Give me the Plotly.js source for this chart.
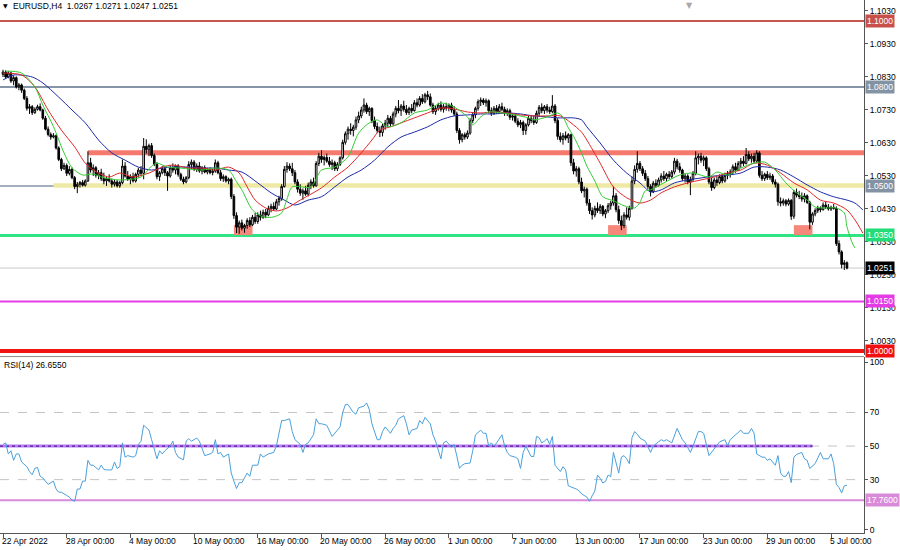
<!DOCTYPE html>
<html><head><meta charset="utf-8">
<script src="https://cdn.plot.ly/plotly-3.0.1.min.js"></script>
<style>html,body{margin:0;padding:0;background:#fff}#chart{width:900px;height:550px}</style>
</head><body><div id="chart"></div>
<script>
// ---------------- DATA ----------------
const symbolTitle = 'EURUSD,H4\u00a0\u00a01.0267 1.0271 1.0247 1.0251';
const rsiTitle = 'RSI(14) 26.6550';

const open = [
1.0838,1.0845,1.0830,1.0842,1.0818,1.0828,1.0800,1.0806,1.0790,1.0765,
1.0735,1.0740,1.0722,1.0732,1.0740,1.0730,1.0705,1.0672,1.0656,1.0648,
1.0652,1.0615,1.0580,1.0552,1.0562,1.0538,1.0550,1.0525,1.0498,1.0505,
1.0510,1.0502,1.0515,1.0570,1.0548,1.0555,1.0532,1.0540,1.0522,1.0515,
1.0522,1.0515,1.0505,1.0512,1.0500,1.0510,1.0560,1.0530,1.0520,1.0528,
1.0515,1.0535,1.0548,1.0538,1.0620,1.0610,1.0622,1.0592,1.0565,1.0528,
1.0540,1.0552,1.0540,1.0530,1.0555,1.0548,1.0560,1.0535,1.0520,1.0512,
1.0525,1.0565,1.0572,1.0550,1.0560,1.0545,1.0555,1.0542,1.0550,1.0540,
1.0545,1.0570,1.0540,1.0522,1.0528,1.0515,1.0520,1.0468,1.0410,1.0375,
1.0388,1.0372,1.0380,1.0395,1.0382,1.0405,1.0392,1.0412,1.0405,1.0420,
1.0412,1.0432,1.0438,1.0430,1.0452,1.0462,1.0498,1.0550,1.0560,1.0552,
1.0540,1.0512,1.0490,1.0478,1.0485,1.0475,1.0502,1.0512,1.0500,1.0568,
1.0590,1.0580,1.0586,1.0575,1.0565,1.0570,1.0552,1.0565,1.0585,1.0632,
1.0658,1.0672,1.0668,1.0678,1.0700,1.0712,1.0730,1.0745,1.0725,1.0735,
1.0698,1.0680,1.0668,1.0662,1.0682,1.0690,1.0705,1.0688,1.0718,1.0735,
1.0728,1.0742,1.0732,1.0722,1.0735,1.0728,1.0752,1.0745,1.0765,1.0755,
1.0776,1.0770,1.0745,1.0725,1.0735,1.0745,1.0732,1.0740,1.0736,1.0745,
1.0730,1.0718,1.0668,1.0640,1.0655,1.0648,1.0660,1.0698,1.0715,1.0735,
1.0755,1.0760,1.0752,1.0758,1.0728,1.0720,1.0735,1.0725,1.0740,1.0732,
1.0720,1.0728,1.0708,1.0712,1.0696,1.0685,1.0692,1.0668,1.0685,1.0705,
1.0698,1.0692,1.0720,1.0738,1.0728,1.0740,1.0730,1.0725,1.0742,1.0698,
1.0650,1.0640,1.0652,1.0645,1.0655,1.0570,1.0545,1.0552,1.0512,1.0485,
1.0490,1.0448,1.0425,1.0412,1.0432,1.0425,1.0438,1.0415,1.0425,1.0440,
1.0448,1.0470,1.0428,1.0395,1.0380,1.0412,1.0405,1.0432,1.0515,1.0550,
1.0568,1.0552,1.0538,1.0522,1.0498,1.0482,1.0508,1.0502,1.0518,1.0530,
1.0522,1.0535,1.0528,1.0542,1.0575,1.0558,1.0548,1.0522,1.0530,1.0512,
1.0520,1.0538,1.0585,1.0590,1.0578,1.0585,1.0552,1.0512,1.0495,1.0518,
1.0510,1.0528,1.0515,1.0532,1.0538,1.0542,1.0558,1.0548,1.0568,1.0575,
1.0568,1.0595,1.0582,1.0590,1.0575,1.0600,1.0532,1.0522,1.0535,1.0525,
1.0530,1.0512,1.0505,1.0452,1.0448,1.0455,1.0445,1.0456,1.0408,1.0480,
1.0472,1.0468,1.0460,1.0470,1.0450,1.0390,1.0415,1.0425,1.0432,1.0428,
1.0442,1.0436,1.0430,1.0435,1.0432,1.0325,1.0300,1.0262,1.0267];

const high = [
1.0852,1.0850,1.0848,1.0846,1.0835,1.0832,1.0812,1.0810,1.0795,1.0772,
1.0748,1.0745,1.0738,1.0746,1.0750,1.0734,1.0712,1.0680,1.0662,1.0660,
1.0656,1.0620,1.0585,1.0570,1.0568,1.0560,1.0556,1.0530,1.0512,1.0515,
1.0518,1.0520,1.0605,1.0585,1.0565,1.0560,1.0548,1.0552,1.0540,1.0528,
1.0535,1.0522,1.0520,1.0518,1.0515,1.0580,1.0572,1.0545,1.0535,1.0540,
1.0540,1.0555,1.0560,1.0645,1.0641,1.0628,1.0630,1.0598,1.0572,1.0545,
1.0560,1.0558,1.0545,1.0562,1.0568,1.0565,1.0566,1.0540,1.0528,1.0530,
1.0575,1.0580,1.0578,1.0568,1.0572,1.0560,1.0562,1.0555,1.0556,1.0552,
1.0580,1.0576,1.0548,1.0535,1.0532,1.0525,1.0525,1.0475,1.0420,1.0395,
1.0398,1.0385,1.0402,1.0405,1.0412,1.0418,1.0420,1.0425,1.0428,1.0430,
1.0440,1.0446,1.0450,1.0460,1.0470,1.0505,1.0560,1.0572,1.0568,1.0570,
1.0548,1.0520,1.0505,1.0492,1.0500,1.0510,1.0520,1.0525,1.0575,1.0600,
1.0608,1.0592,1.0598,1.0588,1.0580,1.0576,1.0572,1.0590,1.0640,1.0665,
1.0680,1.0690,1.0685,1.0710,1.0725,1.0740,1.0765,1.0752,1.0740,1.0738,
1.0710,1.0692,1.0680,1.0688,1.0700,1.0715,1.0712,1.0725,1.0742,1.0760,
1.0748,1.0758,1.0745,1.0740,1.0748,1.0760,1.0765,1.0772,1.0778,1.0782,
1.0788,1.0780,1.0752,1.0742,1.0752,1.0756,1.0748,1.0752,1.0750,1.0752,
1.0742,1.0725,1.0675,1.0660,1.0662,1.0668,1.0705,1.0722,1.0740,1.0762,
1.0768,1.0766,1.0765,1.0762,1.0738,1.0742,1.0745,1.0748,1.0752,1.0740,
1.0735,1.0734,1.0720,1.0718,1.0705,1.0700,1.0698,1.0690,1.0712,1.0715,
1.0712,1.0728,1.0745,1.0750,1.0745,1.0748,1.0740,1.0775,1.0748,1.0705,
1.0662,1.0660,1.0665,1.0660,1.0658,1.0582,1.0560,1.0558,1.0525,1.0498,
1.0495,1.0460,1.0435,1.0440,1.0450,1.0445,1.0442,1.0430,1.0448,1.0455,
1.0498,1.0478,1.0440,1.0410,1.0420,1.0435,1.0440,1.0528,1.0562,1.0605,
1.0575,1.0560,1.0548,1.0530,1.0505,1.0515,1.0520,1.0525,1.0538,1.0545,
1.0540,1.0545,1.0548,1.0585,1.0582,1.0570,1.0552,1.0538,1.0535,1.0528,
1.0545,1.0605,1.0598,1.0600,1.0592,1.0590,1.0558,1.0525,1.0525,1.0528,
1.0535,1.0535,1.0540,1.0545,1.0550,1.0565,1.0570,1.0575,1.0585,1.0590,
1.0615,1.0605,1.0598,1.0600,1.0608,1.0605,1.0545,1.0540,1.0545,1.0540,
1.0536,1.0520,1.0510,1.0465,1.0462,1.0460,1.0462,1.0460,1.0488,1.0492,
1.0485,1.0480,1.0478,1.0474,1.0455,1.0420,1.0432,1.0440,1.0438,1.0450,
1.0452,1.0445,1.0440,1.0445,1.0438,1.0335,1.0305,1.0275,1.0271];

const low = [
1.0830,1.0825,1.0826,1.0812,1.0805,1.0795,1.0790,1.0782,1.0760,1.0728,
1.0718,1.0715,1.0718,1.0728,1.0726,1.0700,1.0668,1.0650,1.0640,1.0644,
1.0610,1.0575,1.0545,1.0548,1.0530,1.0532,1.0520,1.0490,1.0478,1.0495,
1.0498,1.0498,1.0512,1.0540,1.0530,1.0525,1.0520,1.0515,1.0505,1.0500,
1.0510,1.0495,1.0498,1.0495,1.0494,1.0505,1.0525,1.0515,1.0505,1.0510,
1.0510,1.0525,1.0530,1.0520,1.0598,1.0590,1.0585,1.0560,1.0520,1.0515,
1.0535,1.0530,1.0485,1.0525,1.0540,1.0535,1.0528,1.0515,1.0505,1.0508,
1.0520,1.0550,1.0545,1.0542,1.0540,1.0535,1.0538,1.0535,1.0535,1.0532,
1.0540,1.0535,1.0515,1.0512,1.0510,1.0505,1.0460,1.0400,1.0357,1.0355,
1.0365,1.0358,1.0370,1.0375,1.0378,1.0385,1.0385,1.0395,1.0400,1.0402,
1.0408,1.0420,1.0425,1.0426,1.0440,1.0455,1.0495,1.0540,1.0545,1.0530,
1.0505,1.0480,1.0470,1.0458,1.0470,1.0468,1.0490,1.0495,1.0498,1.0560,
1.0570,1.0562,1.0570,1.0558,1.0548,1.0545,1.0545,1.0560,1.0580,1.0625,
1.0640,1.0655,1.0650,1.0670,1.0690,1.0705,1.0722,1.0718,1.0712,1.0690,
1.0672,1.0660,1.0648,1.0650,1.0670,1.0678,1.0680,1.0685,1.0708,1.0720,
1.0712,1.0725,1.0715,1.0715,1.0720,1.0725,1.0738,1.0740,1.0748,1.0750,
1.0760,1.0740,1.0718,1.0715,1.0728,1.0725,1.0722,1.0728,1.0726,1.0722,
1.0712,1.0660,1.0628,1.0632,1.0640,1.0642,1.0655,1.0690,1.0705,1.0728,
1.0742,1.0745,1.0740,1.0720,1.0712,1.0715,1.0718,1.0720,1.0726,1.0712,
1.0712,1.0700,1.0698,1.0690,1.0678,1.0675,1.0654,1.0655,1.0680,1.0690,
1.0685,1.0688,1.0712,1.0720,1.0718,1.0722,1.0718,1.0720,1.0690,1.0640,
1.0632,1.0625,1.0638,1.0630,1.0560,1.0535,1.0528,1.0505,1.0478,1.0465,
1.0440,1.0415,1.0398,1.0405,1.0418,1.0415,1.0408,1.0402,1.0418,1.0428,
1.0440,1.0420,1.0385,1.0366,1.0372,1.0398,1.0395,1.0428,1.0505,1.0540,
1.0545,1.0530,1.0515,1.0490,1.0468,1.0478,1.0495,1.0498,1.0510,1.0515,
1.0512,1.0520,1.0522,1.0535,1.0550,1.0540,1.0515,1.0510,1.0505,1.0472,
1.0512,1.0532,1.0565,1.0570,1.0560,1.0545,1.0505,1.0485,1.0490,1.0500,
1.0505,1.0508,1.0510,1.0520,1.0525,1.0535,1.0540,1.0545,1.0555,1.0560,
1.0565,1.0575,1.0570,1.0568,1.0570,1.0525,1.0515,1.0515,1.0518,1.0518,
1.0505,1.0495,1.0440,1.0438,1.0440,1.0438,1.0440,1.0397,1.0400,1.0465,
1.0460,1.0452,1.0450,1.0445,1.0368,1.0382,1.0408,1.0418,1.0420,1.0425,
1.0430,1.0425,1.0424,1.0428,1.0318,1.0292,1.0250,1.0245,1.0247];

const close = [
1.0845,1.0830,1.0842,1.0818,1.0828,1.0800,1.0806,1.0790,1.0765,1.0735,
1.0740,1.0722,1.0732,1.0740,1.0730,1.0705,1.0672,1.0656,1.0648,1.0652,
1.0615,1.0580,1.0552,1.0562,1.0538,1.0550,1.0525,1.0498,1.0505,1.0510,
1.0502,1.0515,1.0570,1.0548,1.0555,1.0532,1.0540,1.0522,1.0515,1.0522,
1.0515,1.0505,1.0512,1.0500,1.0510,1.0560,1.0530,1.0520,1.0528,1.0515,
1.0535,1.0548,1.0538,1.0620,1.0610,1.0622,1.0592,1.0565,1.0528,1.0540,
1.0552,1.0540,1.0530,1.0555,1.0548,1.0560,1.0535,1.0520,1.0512,1.0525,
1.0565,1.0572,1.0550,1.0560,1.0545,1.0555,1.0542,1.0550,1.0540,1.0545,
1.0570,1.0540,1.0522,1.0528,1.0515,1.0520,1.0468,1.0410,1.0375,1.0388,
1.0372,1.0380,1.0395,1.0382,1.0405,1.0392,1.0412,1.0405,1.0420,1.0412,
1.0432,1.0438,1.0430,1.0452,1.0462,1.0498,1.0550,1.0560,1.0552,1.0540,
1.0512,1.0490,1.0478,1.0485,1.0475,1.0502,1.0512,1.0500,1.0568,1.0590,
1.0580,1.0586,1.0575,1.0565,1.0570,1.0552,1.0565,1.0585,1.0632,1.0658,
1.0672,1.0668,1.0678,1.0700,1.0712,1.0730,1.0745,1.0725,1.0735,1.0698,
1.0680,1.0668,1.0662,1.0682,1.0690,1.0705,1.0688,1.0718,1.0735,1.0728,
1.0742,1.0732,1.0722,1.0735,1.0728,1.0752,1.0745,1.0765,1.0755,1.0776,
1.0770,1.0745,1.0725,1.0735,1.0745,1.0732,1.0740,1.0736,1.0745,1.0730,
1.0718,1.0668,1.0640,1.0655,1.0648,1.0660,1.0698,1.0715,1.0735,1.0755,
1.0760,1.0752,1.0758,1.0728,1.0720,1.0735,1.0725,1.0740,1.0732,1.0720,
1.0728,1.0708,1.0712,1.0696,1.0685,1.0692,1.0668,1.0685,1.0705,1.0698,
1.0692,1.0720,1.0738,1.0728,1.0740,1.0730,1.0725,1.0742,1.0698,1.0650,
1.0640,1.0652,1.0645,1.0655,1.0570,1.0545,1.0552,1.0512,1.0485,1.0490,
1.0448,1.0425,1.0412,1.0432,1.0425,1.0438,1.0415,1.0425,1.0440,1.0448,
1.0470,1.0428,1.0395,1.0380,1.0412,1.0405,1.0432,1.0515,1.0550,1.0568,
1.0552,1.0538,1.0522,1.0498,1.0482,1.0508,1.0502,1.0518,1.0530,1.0522,
1.0535,1.0528,1.0542,1.0575,1.0558,1.0548,1.0522,1.0530,1.0512,1.0520,
1.0538,1.0585,1.0590,1.0578,1.0585,1.0552,1.0512,1.0495,1.0518,1.0510,
1.0528,1.0515,1.0532,1.0538,1.0542,1.0558,1.0548,1.0568,1.0575,1.0568,
1.0595,1.0582,1.0590,1.0575,1.0600,1.0532,1.0522,1.0535,1.0525,1.0530,
1.0512,1.0505,1.0452,1.0448,1.0455,1.0445,1.0456,1.0408,1.0480,1.0472,
1.0468,1.0460,1.0470,1.0450,1.0390,1.0415,1.0425,1.0432,1.0428,1.0442,
1.0436,1.0430,1.0435,1.0432,1.0325,1.0300,1.0262,1.0267,1.0251];

// Alligator-style moving averages (bar index, price)
const lipsBars = [1,7,12,15,19,23,26,30,34,37,44,52,56,58,62,67,75,80,85,88,90,94,98,102,105,107,109,116,120,125,130,134,138,141,145,150,155,160,165,170,175,177,180,183,188,193,198,200,205,209,211,213,215,218,220,223,226,230,234,238,240,242,244,249,255,260,266,269,273,278,283,287,291,295,299,303,306,310,314,317,318,320,321];
const lipsValues = [1.0848,1.0842,1.0800,1.0745,1.0680,1.0600,1.0555,1.0533,1.0536,1.0527,1.0518,1.0527,1.0560,1.0569,1.0557,1.0554,1.0548,1.0554,1.0548,1.0512,1.0488,1.0427,1.0406,1.0406,1.0418,1.0460,1.0497,1.0497,1.0548,1.0557,1.0588,1.0660,1.0691,1.0700,1.0679,1.0691,1.0721,1.0730,1.0751,1.0739,1.0709,1.0685,1.0709,1.0724,1.0721,1.0715,1.0706,1.0700,1.0709,1.0721,1.0709,1.0676,1.0650,1.0600,1.0560,1.0515,1.0467,1.0455,1.0440,1.0433,1.0450,1.0485,1.0488,1.0509,1.0533,1.0539,1.0527,1.0542,1.0533,1.0554,1.0569,1.0572,1.0548,1.0509,1.0479,1.0457,1.0436,1.0433,1.0433,1.0418,1.0376,1.0327,1.0312];

const teethBars = [0,7,12,17,22,27,31,34,40,44,49,55,60,64,70,75,80,85,89,92,95,99,103,107,112,120,125,130,135,139,142,146,150,155,160,165,170,175,180,185,190,195,200,205,210,214,218,220,225,230,235,240,244,248,253,258,263,268,273,278,283,288,293,298,303,308,313,318,321,324];
const teethValues = [1.0842,1.0836,1.0800,1.0730,1.0669,1.0618,1.0569,1.0548,1.0527,1.0539,1.0527,1.0539,1.0557,1.0563,1.0554,1.0554,1.0548,1.0557,1.0539,1.0497,1.0457,1.0433,1.0424,1.0433,1.0457,1.0494,1.0527,1.0557,1.0600,1.0639,1.0669,1.0679,1.0691,1.0706,1.0721,1.0736,1.0733,1.0724,1.0721,1.0724,1.0721,1.0715,1.0712,1.0712,1.0712,1.0691,1.0663,1.0639,1.0569,1.0497,1.0464,1.0448,1.0457,1.0479,1.0497,1.0509,1.0518,1.0527,1.0539,1.0548,1.0569,1.0563,1.0539,1.0509,1.0488,1.0457,1.0448,1.0427,1.0397,1.0357];

const jawBars = [0,4,11,15,21,26,31,36,41,46,51,56,60,64,70,75,80,85,90,96,101,106,110,115,120,125,130,135,140,145,150,155,160,165,170,175,180,185,190,195,200,205,210,215,218,220,225,230,235,240,244,248,253,258,263,268,273,278,283,288,293,298,303,308,313,318,321,324];
const jawValues = [1.0821,1.0836,1.0830,1.0812,1.0769,1.0730,1.0691,1.0639,1.0600,1.0578,1.0557,1.0548,1.0554,1.0557,1.0557,1.0554,1.0554,1.0548,1.0542,1.0509,1.0479,1.0457,1.0442,1.0457,1.0467,1.0497,1.0527,1.0548,1.0578,1.0618,1.0648,1.0663,1.0679,1.0700,1.0712,1.0715,1.0718,1.0718,1.0721,1.0718,1.0712,1.0709,1.0706,1.0706,1.0700,1.0679,1.0630,1.0578,1.0539,1.0509,1.0482,1.0488,1.0509,1.0518,1.0524,1.0530,1.0533,1.0539,1.0557,1.0557,1.0548,1.0527,1.0503,1.0482,1.0467,1.0457,1.0448,1.0427];

// RSI(14) (bar index, value)
const rsiBars = [0,1,2,3,4,5,6,7,9,10,11,12,13,14,15,16,17,19,20,21,22,24,25,26,27,28,29,30,31,32,33,34,36,37,38,39,41,42,43,44,45,46,47,49,50,51,52,53,54,55,56,58,59,60,61,63,64,65,66,68,69,70,71,73,74,75,76,78,79,80,81,82,83,85,86,87,88,89,90,92,93,94,95,96,97,98,100,102,103,104,105,106,108,109,110,112,113,114,115,117,118,119,120,122,123,124,126,127,128,129,130,132,133,134,136,137,138,139,141,142,143,144,146,147,148,149,151,152,153,154,156,157,158,159,161,162,163,164,165,166,167,169,170,171,172,173,174,176,177,178,179,180,181,182,183,184,185,186,188,189,190,191,193,194,195,196,197,198,199,200,201,202,203,204,205,206,207,208,210,211,212,213,215,216,217,218,220,221,222,223,224,225,226,227,228,229,230,232,233,234,235,236,237,238,239,240,242,243,244,245,247,248,249,250,252,253,254,256,257,258,259,260,262,263,264,266,267,268,269,270,272,273,274,276,277,278,279,281,282,283,284,286,287,288,289,291,292,293,294,295,296,297,298,299,301,302,303,304,306,307,308,309,311,312,313,314,315,316,317,318];
const rsiValues = [51.0,51.9,45.3,47.2,41.5,45.3,45.3,40.5,37.7,34.8,32.9,36.7,37.3,32.0,31.0,29.1,27.2,29.1,24.4,22.5,22.5,20.6,19.6,17.7,17.1,24.4,24.4,29.1,29.1,41.5,38.6,38.6,35.8,38.6,36.1,35.8,35.8,40.5,36.7,37.7,51.9,43.4,44.3,43.4,44.3,51.0,52.9,62.4,60.8,59.5,53.8,42.4,47.2,45.3,47.2,50.0,52.9,46.2,43.4,41.8,52.9,54.4,52.9,54.8,52.9,48.1,44.3,45.3,46.2,53.8,45.3,46.2,43.4,45.3,33.9,29.1,24.7,28.2,28.2,33.9,32.0,38.6,38.6,38.6,45.3,43.4,45.3,46.2,50.0,56.7,65.2,65.2,66.2,58.6,53.8,51.0,46.2,51.0,51.9,56.7,66.2,63.3,63.3,62.4,59.5,55.7,59.5,61.4,70.0,74.7,74.7,70.0,69.0,72.8,73.8,75.7,71.9,63.3,53.8,53.8,58.6,61.4,57.6,60.5,62.4,66.2,68.1,63.3,56.7,59.5,60.5,65.2,63.3,67.1,63.3,56.7,52.9,47.2,42.4,51.9,52.9,49.4,50.9,44.0,36.7,38.6,39.5,39.9,47.2,56.7,58.0,59.5,57.6,57.6,50.0,51.9,50.0,51.9,56.7,50.0,46.2,44.3,43.4,42.4,36.7,46.2,50.0,47.2,43.8,43.8,55.7,55.1,51.9,52.9,54.4,51.0,55.7,38.6,34.8,37.7,35.8,26.3,25.3,24.4,23.4,21.5,19.6,17.1,20.4,23.2,32.7,30.8,28.0,28.9,32.7,31.8,46.2,33.9,43.4,44.3,42.4,39.5,55.0,58.6,57.1,54.8,52.9,50.0,46.2,50.0,52.9,53.8,52.9,53.8,51.9,55.7,60.5,53.8,51.9,49.1,46.2,50.0,58.6,58.6,57.6,44.3,46.2,48.1,50.0,52.5,53.8,50.0,53.8,56.7,57.6,59.5,57.6,57.6,60.5,57.6,45.3,43.4,43.4,41.5,42.4,38.6,44.3,33.9,32.0,32.0,34.8,28.2,43.4,45.0,46.2,42.4,41.5,36.7,39.5,42.4,46.2,42.4,42.4,45.3,39.5,27.2,25.3,22.1,26.3,26.7];

// time axis labels (bar index of each label)
const dateTickBars = [0,24,48,72,96,120,144,168,192,216,240,264,288,312];
const dateTickLabels = ['22 Apr 2022','28 Apr 00:00','4 May 00:00','10 May 00:00','16 May 00:00','20 May 00:00','26 May 00:00','1 Jun 00:00','7 Jun 00:00','13 Jun 00:00','17 Jun 00:00','23 Jun 00:00','29 Jun 00:00','5 Jul 00:00'];
const priceTicks = [1.0030,1.0130,1.0230,1.0330,1.0430,1.0530,1.0630,1.0730,1.0830,1.0930,1.1030];
const rsiTicks = [0,30,50,70,100];

// horizontal levels
const levelPrices = [1.1000,1.0800,1.0500,1.0350,1.0150,1.0000];
const levelLabels = ['1.1000','1.0800','1.0500','1.0350','1.0150','1.0000'];
const lastPrice = 1.0251;
const resistanceZone = [1.0593,1.0608];
const resistanceStartBar = 32;
const supportZone = [1.0494,1.0508];
const supportStartBar = 19;
const touchZone = [1.0351,1.0381];
const touchStartBars = [87,228,298];
const touchEndBars = [94,235,305];
const rsiLevels = [30,50,70];
const rsiLowLevel = 17.76;
const rsiMidLevel = 50;
const rsiMidEndBar = 305;

// ---------------- STYLE ----------------
const FONT = 'Liberation Sans, Arial, sans-serif';
const FS = 8.5;
const levelColors = ['#c9554f','#8595a6','#8595a6','#2fe482','#e43de4','#f01414'];
const levelBoxColors = ['#c8504a','#8393a4','#8393a4','#22dc78','#e43ce4','#f01010'];
const levelWidths = [2,2,1.5,3,2,4];
const xRange = [-1.13, 324.42];

const barIndex = close.map((_, i) => i);

const traces = [
  {type:'candlestick', x:barIndex, open:open, high:high, low:low, close:close,
   xaxis:'x', yaxis:'y', whiskerwidth:0, hoverinfo:'skip',
   increasing:{line:{color:'#000', width:1}, fillcolor:'#ffffff'},
   decreasing:{line:{color:'#000', width:1}, fillcolor:'#000000'}},
  {type:'scatter', mode:'lines', x:jawBars, y:jawValues, xaxis:'x', yaxis:'y',
   line:{color:'#1c2aa6', width:1, shape:'spline', smoothing:0.8}, hoverinfo:'skip'},
  {type:'scatter', mode:'lines', x:teethBars, y:teethValues, xaxis:'x', yaxis:'y',
   line:{color:'#e02828', width:1, shape:'spline', smoothing:0.8}, hoverinfo:'skip'},
  {type:'scatter', mode:'lines', x:lipsBars, y:lipsValues, xaxis:'x', yaxis:'y',
   line:{color:'#33cc33', width:1, shape:'spline', smoothing:0.8}, hoverinfo:'skip'},
  {type:'scatter', mode:'lines', x:rsiBars, y:rsiValues, xaxis:'x', yaxis:'y2',
   line:{color:'#4aa0dc', width:1}, hoverinfo:'skip'}
];

const shapes = [];
shapes.push({type:'rect', layer:'below', xref:'x', yref:'y', x0:supportStartBar, x1:xRange[1],
  y0:supportZone[0], y1:supportZone[1], fillcolor:'#efe9a6', line:{width:0}});
shapes.push({type:'rect', layer:'below', xref:'x', yref:'y', x0:resistanceStartBar, x1:xRange[1],
  y0:resistanceZone[0], y1:resistanceZone[1], fillcolor:'#f5796d', line:{width:0}});
touchStartBars.forEach((b, k) => {
  shapes.push({type:'rect', layer:'below', xref:'x', yref:'y', x0:b, x1:touchEndBars[k],
    y0:touchZone[0], y1:touchZone[1], fillcolor:'#f5877b', line:{width:0}});
});
levelPrices.forEach((p, k) => {
  shapes.push({type:'line', layer:'below', xref:'paper', yref:'y', x0:0, x1:1, y0:p, y1:p,
    line:{color:levelColors[k], width:levelWidths[k]}});
});
shapes.push({type:'line', layer:'below', xref:'paper', yref:'y', x0:0, x1:1, y0:lastPrice, y1:lastPrice,
  line:{color:'#c8c8c8', width:1}});
shapes.push({type:'line', xref:'paper', yref:'paper', x0:0, x1:1, y0:0.331, y1:0.331,
  line:{color:'#8a8a8a', width:1}});
rsiLevels.forEach(v => {
  shapes.push({type:'line', layer:'below', xref:'paper', yref:'y2', x0:0, x1:1, y0:v, y1:v,
    line:{color:'#c4c4c4', width:1, dash:'dash'}});
});
shapes.push({type:'line', layer:'below', xref:'paper', yref:'y2', x0:0, x1:1, y0:rsiLowLevel, y1:rsiLowLevel,
  line:{color:'#d98ad9', width:2}});
shapes.push({type:'line', layer:'below', xref:'x', yref:'y2', x0:xRange[0], x1:rsiMidEndBar, y0:rsiMidLevel, y1:rsiMidLevel,
  line:{color:'#b77cf0', width:3}});
shapes.push({type:'line', layer:'below', xref:'x', yref:'y2', x0:xRange[0], x1:rsiMidEndBar, y0:rsiMidLevel, y1:rsiMidLevel,
  line:{color:'#5a1aa0', width:1.2, dash:'dot'}});

const annotations = [];
function box(text, y, yref, bg, fg) {
  annotations.push({xref:'paper', x:1, xanchor:'left', xshift:1, yref:yref, y:y, yanchor:'middle',
    text:text, showarrow:false, bgcolor:bg, borderpad:1,
    font:{family:FONT, size:FS, color:fg}});
}
levelPrices.forEach((p, k) => box(levelLabels[k], p, 'y', levelBoxColors[k], '#ffffff'));
box(lastPrice.toFixed(4), lastPrice, 'y', '#000000', '#ffffff');
box(rsiLowLevel.toFixed(4), rsiLowLevel, 'y2', '#d98ad9', '#ffffff');

dateTickBars.forEach((b, k) => {
  annotations.push({xref:'x', x:b, xanchor:'left', xshift:-3, yref:'paper', y:0, yanchor:'top', yshift:-1,
    text:dateTickLabels[k], showarrow:false, font:{family:FONT, size:FS, color:'#000'}});
});
annotations.push({xref:'paper', x:0, xanchor:'left', xshift:1, yref:'paper', y:1, yanchor:'top', yshift:0,
  text:'\u25BC', showarrow:false, font:{family:'DejaVu Sans', size:6, color:'#000'}});
annotations.push({xref:'paper', x:0, xanchor:'left', xshift:11, yref:'paper', y:1, yanchor:'top', yshift:1,
  text:symbolTitle, showarrow:false, font:{family:FONT, size:FS, color:'#000'}});
annotations.push({xref:'paper', x:0, xanchor:'left', xshift:2, yref:'paper', y:0.330, yanchor:'top', yshift:-1,
  text:rsiTitle, showarrow:false, font:{family:FONT, size:FS, color:'#000'}});
annotations.push({xref:'paper', x:0.7986, xanchor:'center', yref:'paper', y:1, yanchor:'top', yshift:1,
  text:'\u25BC', showarrow:false, font:{family:'DejaVu Sans', size:8, color:'#a8a8a8'}});

const axisFont = {family:FONT, size:FS, color:'#000'};
const layout = {
  width:900, height:550,
  margin:{l:0, r:36, t:0, b:17},
  paper_bgcolor:'#ffffff', plot_bgcolor:'#ffffff',
  showlegend:false,
  boxgap:0.3, boxgroupgap:0.12,
  font:{family:FONT, size:FS, color:'#000'},
  xaxis:{range:xRange, anchor:'y2', showgrid:false, zeroline:false, showline:true, linecolor:'#555', linewidth:1,
    tickmode:'array', tickvals:dateTickBars, ticks:'outside', ticklen:4, tickcolor:'#555', showticklabels:false,
    rangeslider:{visible:false}, fixedrange:true},
  yaxis:{domain:[0.334,1], range:[0.99876,1.10633], side:'right', anchor:'x', showgrid:false, zeroline:false,
    showline:true, mirror:true, linecolor:'#555', linewidth:1,
    tickmode:'array', tickvals:priceTicks, ticktext:priceTicks.map(v => v.toFixed(4)),
    ticks:'outside', ticklen:3, tickcolor:'#555', tickfont:axisFont, fixedrange:true},
  yaxis2:{domain:[0,0.330], range:[-1.79,102.98], side:'right', anchor:'x', showgrid:false, zeroline:false,
    showline:true, mirror:true, linecolor:'#555', linewidth:1,
    tickmode:'array', tickvals:rsiTicks, ticktext:rsiTicks.map(String),
    ticks:'outside', ticklen:3, tickcolor:'#555', tickfont:axisFont, fixedrange:true},
  shapes:shapes,
  annotations:annotations
};

Plotly.newPlot('chart', traces, layout, {staticPlot:true, displayModeBar:false});
</script>
</body></html>
